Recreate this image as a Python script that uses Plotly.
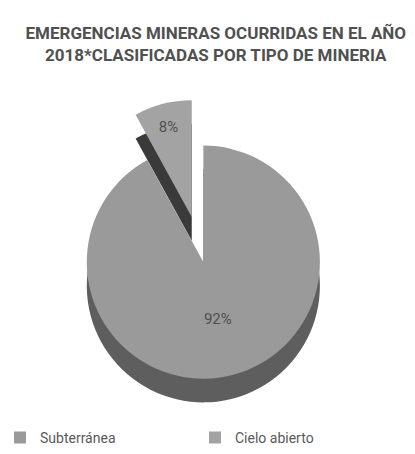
import plotly.graph_objects as go

labels = ["Subterránea", "Cielo abierto"]
values = [92, 8]
pulls = [0, 0.4]
top_colors = ["#9a9a9a", "#a3a3a3"]
side_colors = ["#5e5e5e", "#3a3a3a"]

FONT = "Roboto, Liberation Sans Narrow, sans-serif"
H = 454.0

def yfrac(px_top, px_bottom):
    return [(H - px_bottom) / H, (H - px_top) / H]

fig = go.Figure()
# depth (shadow) layer, same data, shifted down
fig.add_trace(go.Pie(
    labels=labels, values=values, pull=pulls, sort=False, direction="clockwise",
    rotation=0, marker=dict(colors=side_colors, line=dict(width=0)),
    textinfo="none", hoverinfo="skip", showlegend=False,
    domain=dict(x=[0.0, 0.98], y=yfrac(124, 454)),
))
fig.add_trace(go.Pie(
    labels=labels, values=values, pull=pulls, sort=False, direction="clockwise",
    rotation=0, marker=dict(colors=top_colors, line=dict(width=0)),
    textinfo="percent", textposition="inside", insidetextorientation="horizontal",
    textfont=dict(family=FONT, size=15, color="#505050"),
    domain=dict(x=[0.0, 0.98], y=yfrac(100, 430)),
))

fig.update_layout(
    width=415, height=454,
    margin=dict(l=0, r=0, t=0, b=0),
    paper_bgcolor="white", plot_bgcolor="white",
    title=dict(
        text="<b>EMERGENCIAS MINERAS OCURRIDAS EN EL AÑO<br>2018*CLASIFICADAS POR TIPO DE MINERIA</b>",
        x=0.52, xanchor="center", y=0.915, yanchor="middle",
        font=dict(family=FONT, size=17, color="#505050"),
    ),
    legend=dict(
        orientation="h", x=0.0, xanchor="left", y=0.025, yanchor="middle",
        font=dict(family=FONT, size=14, color="#595959"),
        entrywidth=150, entrywidthmode="pixels",
    ),
)

fig.write_html("out.html")
